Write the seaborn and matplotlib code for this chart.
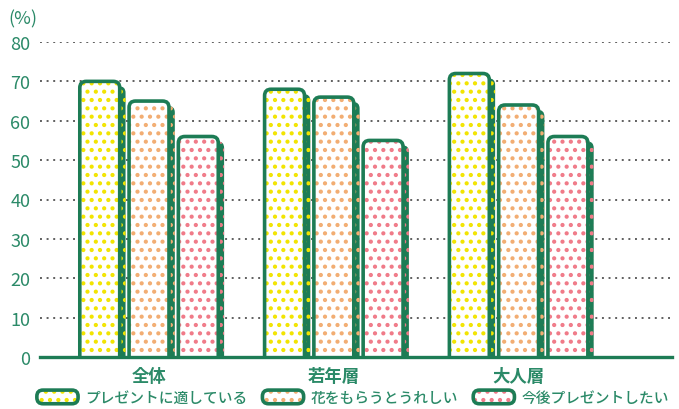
import pandas as pd
import seaborn as sns
import matplotlib
matplotlib.use("Agg")
import matplotlib.pyplot as plt
import matplotlib.patches as mpatches
import matplotlib.patheffects as pe
from matplotlib.legend_handler import HandlerBase

groups = ["全体", "若年層", "大人層"]
series = ["プレゼントに適している", "花をもらうとうれしい", "今後プレゼントしたい"]
v_tekishite = [70, 68, 72]
v_ureshii = [65, 66, 64]
v_shitai = [56, 55, 56]
dot_colors = ["#f2e400", "#f2ad72", "#f07a88"]
y_ticks = [0, 10, 20, 30, 40, 50, 60, 70, 80]

green = "#1d7c55"
text_green = "#2b8a68"

df = pd.DataFrame({
    "group": groups * 3,
    "series": [s for s in series for _ in groups],
    "value": v_tekishite + v_ureshii + v_shitai,
})

sns.set_style("white")
plt.rcParams["font.family"] = ["Noto Sans CJK JP", "DejaVu Sans"]
plt.rcParams["hatch.linewidth"] = 1.8

fig = plt.figure(figsize=(6.79, 4.10), dpi=100)
ax = fig.add_axes([40 / 679, 1 - 358 / 410, 632 / 679, 315 / 410])

sns.barplot(data=df, x="group", y="value", hue="series", order=groups,
            hue_order=series, palette=dot_colors, width=0.8, gap=0.19,
            legend=False, ax=ax)

ax.set_xlim(-0.59, 2.83)
ax.set_ylim(0, 80)

# x units -> px is ~185, y units -> px is ~3.94
aspect = 185 / 3.94
rsize = 0.035

for cont, col in zip(ax.containers, dot_colors):
    for bar in cont:
        x, w, h = bar.get_x(), bar.get_width(), bar.get_height()
        bar.set_visible(False)
        fill = mpatches.FancyBboxPatch(
            (x, -3), w, h + 3, boxstyle=f"round,pad=0,rounding_size={rsize}",
            mutation_aspect=aspect, facecolor="white", edgecolor=col,
            linewidth=0, hatch="..", zorder=3)
        fill.set_path_effects([
            pe.SimplePatchShadow(offset=(4.2, -3.5), shadow_rgbFace=green, alpha=1),
            pe.Normal()])
        ax.add_patch(fill)
        outline = mpatches.FancyBboxPatch(
            (x, -3), w, h + 3, boxstyle=f"round,pad=0,rounding_size={rsize}",
            mutation_aspect=aspect, facecolor="none", edgecolor=green,
            linewidth=2.6, zorder=4)
        ax.add_patch(outline)

# dotted grid
ax.set_yticks(y_ticks)
for yv in y_ticks[1:]:
    ax.axhline(yv, color="#5f5f5f", linestyle=(0, (1, 2.4)), linewidth=1.4, zorder=1)

for s in ["top", "right", "left"]:
    ax.spines[s].set_visible(False)
ax.spines["bottom"].set_color(green)
ax.spines["bottom"].set_linewidth(2.4)
ax.spines["bottom"].set_zorder(5)

ax.tick_params(axis="y", length=0, pad=7, labelsize=13, labelcolor=text_green)
ax.tick_params(axis="x", length=0, pad=7, labelsize=12.5, labelcolor=text_green)
for lab in ax.get_xticklabels():
    lab.set_fontweight("bold")
ax.set_xlabel("")
ax.set_ylabel("")

fig.text(8 / 679, 1 - 19 / 410, "(%)", color=text_green, fontsize=13,
         ha="left", va="center")


class DotHandler(HandlerBase):
    def create_artists(self, legend, orig_handle, xdescent, ydescent,
                       width, height, fontsize, trans):
        col = orig_handle.get_facecolor()
        r = height * 0.45
        a = mpatches.FancyBboxPatch(
            (-xdescent, -ydescent), width, height,
            boxstyle=f"round,pad=0,rounding_size={r}", facecolor="white",
            edgecolor=col, linewidth=0, hatch="..", transform=trans)
        b = mpatches.FancyBboxPatch(
            (-xdescent, -ydescent), width, height,
            boxstyle=f"round,pad=0,rounding_size={r}", facecolor="none",
            edgecolor=green, linewidth=2.6, transform=trans)
        return [a, b]


handles = [mpatches.Patch(facecolor=c, label=s) for c, s in zip(dot_colors, series)]
leg = fig.legend(handles=handles, loc="center", bbox_to_anchor=(0.52, 0.028),
                 ncol=3, frameon=False, prop={"size": 10.6, "weight": "medium"},
                 handlelength=2.8, handleheight=1.05, handletextpad=0.5,
                 columnspacing=1.0, borderpad=0.1,
                 handler_map={mpatches.Patch: DotHandler()})
for t in leg.get_texts():
    t.set_color(text_green)

fig.savefig("out.png", dpi=100)
